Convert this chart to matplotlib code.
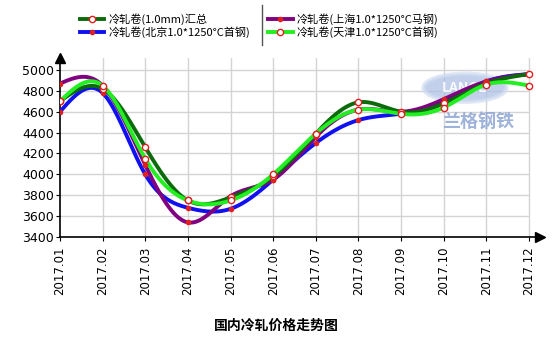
import numpy as np
import matplotlib.pyplot as plt
from matplotlib.lines import Line2D
from matplotlib.patches import Ellipse

plt.rcParams['font.family'] = ['Noto Sans CJK SC', 'DejaVu Sans']

months = ["2017.01", "2017.02", "2017.03", "2017.04", "2017.05", "2017.06",
          "2017.07", "2017.08", "2017.09", "2017.10", "2017.11", "2017.12"]

total = [4700, 4820, 4260, 3750, 3780, 3980, 4390, 4690, 4600, 4680, 4870, 4960]
beijing = [4600, 4780, 4000, 3680, 3670, 3950, 4300, 4520, 4580, 4690, 4890, 4960]
shanghai = [4870, 4850, 4090, 3540, 3790, 3950, 4360, 4620, 4600, 4720, 4890, 4960]
tianjin = [4700, 4850, 4150, 3750, 3750, 4000, 4390, 4620, 4580, 4640, 4860, 4850]

yticks = [3400, 3600, 3800, 4000, 4200, 4400, 4600, 4800, 5000]


def natural_spline(x, y, n=400):
    # natural cubic spline through the monthly points, for the smooth line
    x = np.asarray(x, float)
    y = np.asarray(y, float)
    k = len(x)
    h = np.diff(x)
    A = np.zeros((k, k))
    b = np.zeros(k)
    A[0, 0] = A[-1, -1] = 1
    for i in range(1, k - 1):
        A[i, i - 1] = h[i - 1]
        A[i, i] = 2 * (h[i - 1] + h[i])
        A[i, i + 1] = h[i]
        b[i] = 6 * ((y[i + 1] - y[i]) / h[i] - (y[i] - y[i - 1]) / h[i - 1])
    M = np.linalg.solve(A, b)
    xs = np.linspace(x[0], x[-1], n)
    idx = np.clip(np.searchsorted(x, xs) - 1, 0, k - 2)
    x0, x1 = x[idx], x[idx + 1]
    hh = x1 - x0
    t0, t1 = x1 - xs, xs - x0
    ys = (M[idx] * t0 ** 3 / (6 * hh) + M[idx + 1] * t1 ** 3 / (6 * hh)
          + (y[idx] / hh - M[idx] * hh / 6) * t0
          + (y[idx + 1] / hh - M[idx + 1] * hh / 6) * t1)
    return xs, ys


fig = plt.figure(figsize=(5.53, 3.45), dpi=100)
ax = fig.add_axes([0.1085, 0.313, 0.868, 0.519])

x = np.arange(len(months))
series = [
    ("冷轧卷(北京1.0*1250°C首钢)", beijing, "#1010f0", "#e02020", 3),
    ("冷轧卷(上海1.0*1250°C马钢)", shanghai, "#800080", "#e02020", 3),
    ("冷轧卷(1.0mm)汇总", total, "#0b6b0b", "white", 4.5),
    ("冷轧卷(天津1.0*1250°C首钢)", tianjin, "#22ee22", "white", 4.5),
]
handles = {}
for label, vals, color, mfc, ms in series:
    xs, ys = natural_spline(x, vals)
    ax.plot(xs, ys, color=color, lw=2.8, zorder=3, solid_capstyle="round")
    ax.plot(x, vals, ls="none", marker="o", ms=ms, mfc=mfc, mec="#e02020",
            mew=1.0, zorder=4)
    handles[label] = Line2D([], [], color=color, lw=2.8, marker="o", ms=ms,
                            mfc=mfc, mec="#e02020", mew=1.0)

# watermark logo
ax.add_patch(Ellipse((9.5, 4830), 1.95, 270, facecolor="#a9bde3",
                     edgecolor="#d3def2", lw=3, alpha=0.7, zorder=1))
ax.text(9.5, 4830, "LANGE", color="white", fontsize=10, fontweight="bold",
        ha="center", va="center", alpha=0.9, zorder=1)
ax.text(9.8, 4500, "兰格钢铁", color="#8ea6d4", fontsize=13, fontweight="bold",
        ha="center", va="center", alpha=0.85, zorder=1)

ax.set_xlim(0, 11.26)
ax.set_ylim(3400, 5115)
ax.set_xticks(x)
ax.set_xticklabels(months, rotation=90, fontsize=8.5, family="DejaVu Sans")
ax.set_yticks(yticks)
ax.set_yticklabels([str(v) for v in yticks], fontsize=9, family="DejaVu Sans")
ax.tick_params(length=3, width=0.8, pad=1.5)
ax.tick_params(axis="x", pad=4)

for xv in x[1:]:
    ax.axvline(xv, color="#d4d4d4", lw=1, zorder=0)
for yv in yticks[1:]:
    ax.hlines(yv, 0, 11, color="#d4d4d4", lw=1, zorder=0)

for s in ("top", "right"):
    ax.spines[s].set_visible(False)
for s in ("left", "bottom"):
    ax.spines[s].set_linewidth(1.2)
ax.plot(1, 0, ">k", ms=7, transform=ax.transAxes, clip_on=False)
ax.plot(0, 1, "^k", ms=7, transform=ax.transAxes, clip_on=False)

order = ["冷轧卷(1.0mm)汇总", "冷轧卷(北京1.0*1250°C首钢)",
         "冷轧卷(上海1.0*1250°C马钢)", "冷轧卷(天津1.0*1250°C首钢)"]
fig.legend([handles[k] for k in order], order, ncol=2, frameon=False,
           loc="upper left", bbox_to_anchor=(0.13, 0.985), fontsize=8,
           handlelength=2.2, handletextpad=0.4, columnspacing=1.6,
           labelspacing=0.1, borderpad=0.2)
fig.add_artist(Line2D([0.474, 0.474], [0.87, 0.985], color="#555555", lw=1,
                      transform=fig.transFigure))

fig.text(0.5, 0.055, "国内冷轧价格走势图", ha="center", va="center",
         fontsize=10, fontweight="bold")

fig.savefig("out.png", dpi=100)
